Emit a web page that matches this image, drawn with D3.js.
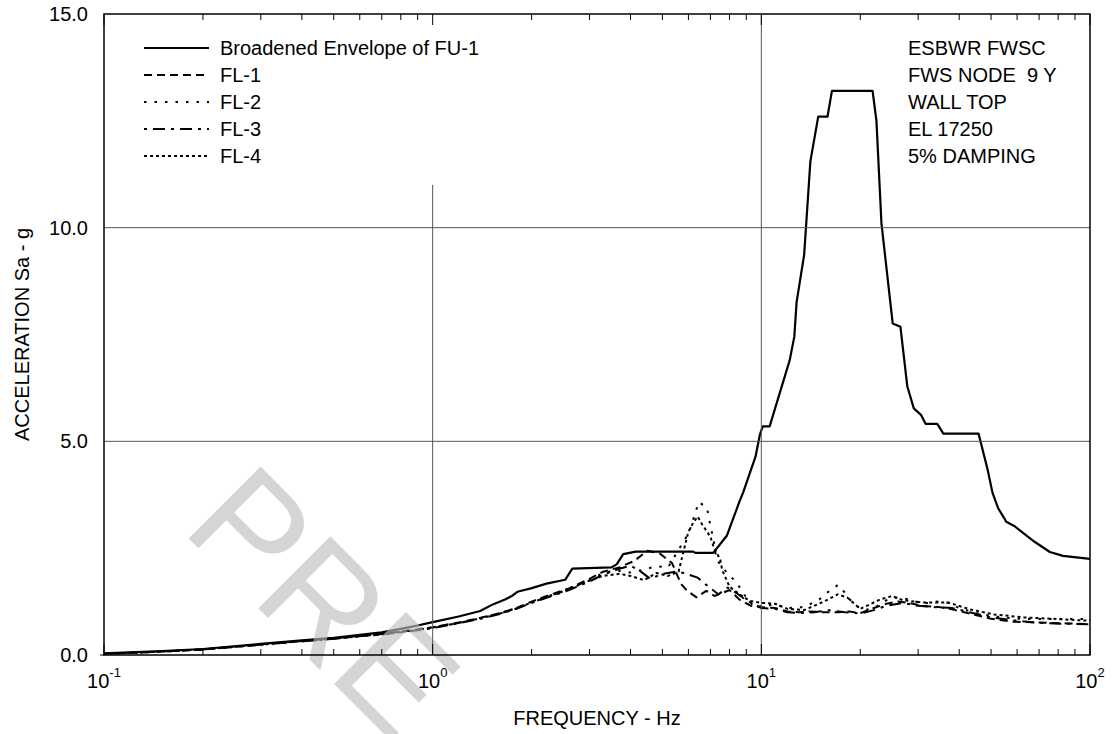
<!DOCTYPE html>
<html>
<head>
<meta charset="utf-8">
<script src="https://cdn.jsdelivr.net/npm/d3@7"></script>
<style>
  html, body { margin: 0; padding: 0; background: #fff; }
  svg { display: block; }
  text { font-family: "Liberation Sans", Arial, Helvetica, sans-serif; fill: #000; }
</style>
</head>
<body>
<svg id="chart" width="1113" height="734"></svg>
<script>
// ---------------- DATA ----------------
const envelopeFU1 = [[0.1,0.04],[0.15,0.09],[0.2,0.14],[0.3,0.26],[0.4,0.34],[0.5,0.40],[0.6,0.47],[0.7,0.53],[0.8,0.61],[0.9,0.69],[1.0,0.77],[1.2,0.9],[1.395,1.03],[1.53,1.19],[1.66,1.30],[1.74,1.38],[1.81,1.48],[1.99,1.56],[2.22,1.67],[2.53,1.76],[2.66,2.02],[3.5,2.05],[3.63,2.12],[3.8,2.36],[4.15,2.42],[6.2,2.42],[6.3,2.39],[7.14,2.39],[7.85,2.79],[8.6,3.61],[8.8,3.8],[9.6,4.64],[9.9,5.16],[10.1,5.35],[10.6,5.35],[12.2,6.9],[12.6,7.45],[12.8,8.25],[13.5,9.37],[14.1,11.55],[14.9,12.6],[15.9,12.6],[16.4,13.2],[21.8,13.2],[22.4,12.5],[23.2,10.1],[25.1,7.76],[26.5,7.68],[27.8,6.29],[29.1,5.77],[30.6,5.62],[31.6,5.41],[34.3,5.41],[35.8,5.18],[45.8,5.18],[48.8,4.34],[50.5,3.8],[52.5,3.44],[55.6,3.12],[58.8,3.02],[67.8,2.65],[75.5,2.41],[82.8,2.32],[100,2.25]];

const fl1 = [[0.1,0.03],[0.15,0.08],[0.2,0.13],[0.3,0.25],[0.4,0.33],[0.5,0.39],[0.6,0.45],[0.7,0.49],[0.8,0.55],[0.9,0.6],[1.0,0.65],[1.2,0.76],[1.4,0.87],[1.6,0.98],[1.8,1.1],[2.0,1.25],[2.3,1.42],[2.6,1.56],[3.0,1.78],[3.3,1.95],[3.7,2.05],[4.1,2.2],[4.5,2.44],[4.9,2.38],[5.35,2.15],[5.7,1.66],[5.95,1.5],[6.35,1.35],[6.8,1.5],[7.2,1.38],[7.6,1.45],[8.0,1.52],[8.6,1.29],[9.3,1.15],[10,1.12],[11,1.1],[12,1.02],[13,1.0],[14,1.02],[15.5,1.0],[17,1.0],[18.5,1.02],[20,0.98],[22,1.1],[24,1.2],[26,1.25],[28,1.22],[31,1.15],[35,1.12],[39,1.05],[44,0.95],[50,0.85],[58,0.78],[70,0.76],[85,0.74],[100,0.72]];

const fl2 = [[0.1,0.03],[0.15,0.08],[0.2,0.13],[0.3,0.24],[0.4,0.32],[0.5,0.38],[0.6,0.44],[0.7,0.48],[0.8,0.54],[0.9,0.59],[1.0,0.64],[1.2,0.75],[1.4,0.86],[1.6,0.97],[1.8,1.1],[2.0,1.24],[2.3,1.4],[2.6,1.55],[3.0,1.75],[3.3,1.92],[3.6,1.98],[4.0,1.93],[4.4,2.0],[4.8,2.08],[5.2,2.05],[5.66,2.52],[6.03,2.87],[6.45,3.58],[6.83,3.45],[7.0,3.02],[7.15,2.71],[7.3,2.24],[7.85,1.93],[8.4,1.7],[9.0,1.34],[9.6,1.1],[10,1.15],[11,1.18],[12,1.1],[13.5,1.12],[15,1.3],[16,1.48],[17.1,1.64],[18,1.45],[19,1.2],[20.5,1.05],[22,1.1],[24,1.28],[26,1.35],[28,1.3],[31,1.2],[34,1.25],[37,1.22],[40,1.1],[45,0.98],[51,0.9],[60,0.85],[70,0.84],[85,0.84],[100,0.84]];

const fl3 = [[0.1,0.03],[0.15,0.08],[0.2,0.13],[0.3,0.24],[0.4,0.32],[0.5,0.38],[0.6,0.44],[0.7,0.48],[0.8,0.53],[0.9,0.58],[1.0,0.63],[1.2,0.74],[1.4,0.85],[1.6,0.96],[1.8,1.08],[2.0,1.22],[2.3,1.38],[2.6,1.52],[3.0,1.72],[3.3,1.88],[3.7,2.02],[4.0,2.09],[4.3,1.95],[4.6,1.78],[5.0,1.9],[5.5,1.95],[5.8,1.92],[6.4,1.81],[6.9,1.6],[7.4,1.42],[7.9,1.58],[8.4,1.45],[9.0,1.28],[10,1.1],[11,1.08],[12,1.0],[13,0.98],[14.5,1.0],[16,1.05],[18,1.0],[20,0.97],[22,1.05],[24,1.15],[27,1.22],[30,1.15],[34,1.12],[38,1.1],[43,1.0],[50,0.88],[60,0.8],[70,0.75],[85,0.73],[100,0.72]];

const fl4 = [[0.1,0.03],[0.15,0.08],[0.2,0.13],[0.3,0.24],[0.4,0.32],[0.5,0.38],[0.6,0.44],[0.7,0.49],[0.8,0.54],[0.9,0.59],[1.0,0.64],[1.2,0.75],[1.4,0.86],[1.6,0.97],[1.8,1.09],[2.0,1.23],[2.3,1.39],[2.6,1.54],[3.0,1.74],[3.3,1.85],[3.7,1.9],[4.0,1.85],[4.4,1.75],[4.8,1.92],[5.2,1.85],[5.6,1.95],[6.0,2.89],[6.2,3.09],[6.4,3.24],[6.6,3.06],[7.0,2.77],[7.15,2.54],[7.5,2.23],[7.6,1.99],[8.0,1.6],[8.6,1.42],[9.2,1.27],[10,1.22],[11,1.2],[12,1.08],[13.5,1.05],[15.5,1.25],[17.1,1.42],[18.3,1.34],[20,1.08],[23,1.3],[25,1.38],[27,1.28],[31,1.23],[37,1.23],[43,1.07],[51,0.95],[63,0.88],[80,0.84],[100,0.8]];

const seriesNames = ["Broadened Envelope of FU-1", "FL-1", "FL-2", "FL-3", "FL-4"];
const yTicks = [0, 5, 10, 15];
const xDecades = [-1, 0, 1, 2];
const annotation = ["ESBWR FWSC", "FWS NODE  9 Y", "WALL TOP", "EL 17250", "5% DAMPING"];
const xTitle = "FREQUENCY - Hz";
const yTitle = "ACCELERATION Sa - g";
const watermark = "PRE";

// ---------------- LAYOUT ----------------
const svg = d3.select("#chart");
const L = 104, R = 1090, T = 14, B = 655;
const FONT = 20;

const x = d3.scaleLog().domain([0.1, 100]).range([L, R]);
const y = d3.scaleLinear().domain([0, 15]).range([B, T]);

const styles = [
  { dash: null, width: 2.2 },
  { dash: "8,5", width: 2 },
  { dash: "2.5,8", width: 2 },
  { dash: "3,6,12,6", width: 2 },
  { dash: "3,3", width: 2 }
];
const allSeries = [envelopeFU1, fl1, fl2, fl3, fl4];

svg.append("defs").append("clipPath").attr("id", "plotclip")
  .append("rect").attr("x", L).attr("y", T).attr("width", R - L).attr("height", B - T);

const line = d3.line().x(d => x(d[0])).y(d => y(d[1]));

// data lines
const gData = svg.append("g").attr("clip-path", "url(#plotclip)");
allSeries.forEach((s, i) => {
  gData.append("path").datum(s)
    .attr("d", line)
    .attr("fill", "none")
    .attr("stroke", "#000")
    .attr("stroke-width", styles[i].width)
    .attr("stroke-linejoin", "round")
    .attr("stroke-dasharray", styles[i].dash);
});

// watermark
svg.append("text")
  .attr("transform", "translate(180,530) rotate(45)")
  .attr("font-size", 148)
  .style("fill", "#bebebe")
  .attr("opacity", 0.63)
  .text(watermark);

// grid lines
const gGrid = svg.append("g").attr("stroke", "#555").attr("stroke-width", 1);
[5, 10].forEach(v => {
  gGrid.append("line").attr("x1", L).attr("x2", R).attr("y1", y(v)).attr("y2", y(v));
});
gGrid.append("line").attr("x1", x(1)).attr("x2", x(1)).attr("y1", y(11)).attr("y2", B);
gGrid.append("line").attr("x1", x(10)).attr("x2", x(10)).attr("y1", T).attr("y2", B);

// frame
svg.append("rect").attr("x", L).attr("y", T).attr("width", R - L).attr("height", B - T)
  .attr("fill", "none").attr("stroke", "#000").attr("stroke-width", 1.5);

// minor / major ticks on top and bottom (inward)
const gTicks = svg.append("g").attr("stroke", "#000").attr("stroke-width", 1);
xDecades.forEach(d => {
  const base = Math.pow(10, d);
  if (d < 2) {
    for (let m = 2; m <= 9; m++) {
      const xv = x(m * base);
      gTicks.append("line").attr("x1", xv).attr("x2", xv).attr("y1", T).attr("y2", T + 6);
      gTicks.append("line").attr("x1", xv).attr("x2", xv).attr("y1", B).attr("y2", B - 6);
    }
  }
  const xv = x(base);
  gTicks.append("line").attr("x1", xv).attr("x2", xv).attr("y1", T).attr("y2", T + 11);
  gTicks.append("line").attr("x1", xv).attr("x2", xv).attr("y1", B).attr("y2", B - 11);
});
gTicks.append("line").attr("x1", L - 4).attr("x2", L).attr("y1", B).attr("y2", B);

// y tick labels
yTicks.forEach(v => {
  svg.append("text").attr("x", L - 16).attr("y", y(v) + 7)
    .attr("text-anchor", "end").attr("font-size", FONT)
    .text(d3.format(".1f")(v));
});

// x tick labels 10^n
xDecades.forEach(d => {
  const t = svg.append("text").attr("x", x(Math.pow(10, d))).attr("y", B + 33)
    .attr("text-anchor", "middle").attr("font-size", FONT);
  t.append("tspan").text("10");
  t.append("tspan").attr("dy", -11).attr("font-size", 13).text(String(d));
});

// axis titles
svg.append("text").attr("x", (L + R) / 2).attr("y", 725)
  .attr("text-anchor", "middle").attr("font-size", FONT).text(xTitle);
svg.append("text").attr("transform", `translate(29,${(T + B) / 2}) rotate(-90)`)
  .attr("text-anchor", "middle").attr("font-size", FONT).text(yTitle);

// legend
const legY0 = 48, legStep = 27;
seriesNames.forEach((name, i) => {
  const yy = legY0 + i * legStep;
  svg.append("line").attr("x1", 144).attr("x2", 209).attr("y1", yy).attr("y2", yy)
    .attr("stroke", "#000").attr("stroke-width", styles[i].width)
    .attr("stroke-dasharray", styles[i].dash);
  svg.append("text").attr("x", 220).attr("y", yy + 7).attr("font-size", FONT).text(name);
});

// annotation
annotation.forEach((s, i) => {
  svg.append("text").attr("x", 908).attr("y", legY0 + i * legStep + 7)
    .attr("font-size", FONT).attr("xml:space", "preserve").style("white-space", "pre").text(s);
});
</script>
</body>
</html>
